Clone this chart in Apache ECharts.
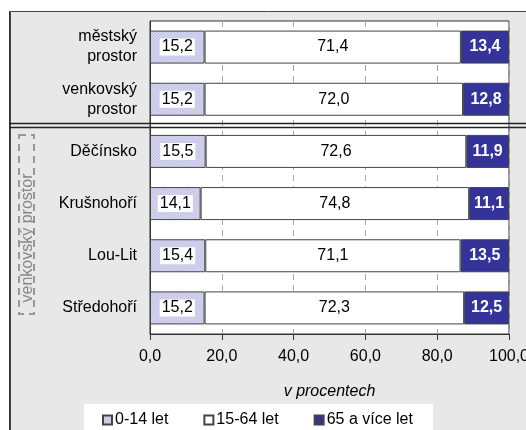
<!DOCTYPE html>
<html><head><meta charset="utf-8">
<script src="https://cdn.jsdelivr.net/npm/echarts@6/dist/echarts.min.js"></script>
<style>html,body{margin:0;padding:0;background:#fff;overflow:hidden}#c{width:526px;height:430px}</style>
</head><body><div id="c"></div>
<script>
var categories = ['městský\nprostor', 'venkovský\nprostor', 'Děčínsko', 'Krušnohoří', 'Lou-Lit', 'Středohoří'];
var seriesNames = ['0-14 let', '15-64 let', '65 a více let'];
var young = [15.2, 15.2, 15.5, 14.1, 15.4, 15.2];
var working = [71.4, 72.0, 72.6, 74.8, 71.1, 72.3];
var old = [13.4, 12.8, 11.9, 11.1, 13.5, 12.5];
var xTicks = [0, 20, 40, 60, 80, 100];

function fmt(v){ return v.toFixed(1).replace('.', ','); }

var cv = document.createElement('canvas');
cv.width = 3; cv.height = 3;
var cx = cv.getContext('2d');
cx.fillStyle = '#d4d4ee'; cx.fillRect(0,0,3,3);
cx.fillStyle = '#c0c0e2';
for (var i=0;i<3;i++){ cx.fillRect(i, 2-i, 1, 1); }

var chart = echarts.init(document.getElementById('c'), null, {renderer:'canvas', width:526, height:430});
var font = '"Liberation Sans", Arial, sans-serif';
var FS = 16;
chart.setOption({
  animation: false,
  textStyle: {fontFamily: font},
  graphic: [
    {type:'rect', z:-10, shape:{x:10.5, y:11.5, width:540, height:440}, style:{fill:'#e8e8e8', stroke:'#444', lineWidth:1}},
    {type:'line', z:-9, shape:{x1:9.5, y1:11, x2:9.5, y2:430}, style:{stroke:'#333', lineWidth:1}},
    {type:'rect', z:-8, shape:{x:84, y:404, width:349, height:40}, style:{fill:'#fff'}},
    {type:'line', z:50, shape:{x1:9, y1:123.5, x2:526, y2:123.5}, style:{stroke:'#222', lineWidth:1.5}},
    {type:'line', z:50, shape:{x1:9, y1:127.5, x2:526, y2:127.5}, style:{stroke:'#222', lineWidth:1.5}},
    {type:'rect', z:5, shape:{x:19, y:135, width:15, height:179}, style:{fill:'none', stroke:'#999', lineWidth:2, lineDash:[7,5]}},
    {type:'text', z:6, x:28, y:238, rotation:Math.PI/2, style:{text:'venkovský prostor', fill:'#888', font:FS + 'px ' + font, align:'center', verticalAlign:'middle'}}
  ],
  legend: {
    left: 97, top: 407, itemWidth: 9, itemHeight: 9, itemGap: 35,
    icon: 'rect',
    textStyle: {fontSize: FS, color:'#000', fontFamily: font, padding:[0,0,0,-2]},
    data: seriesNames
  },
  grid: {left:150, right:17, top:21, bottom:96, containLabel:false, outerBoundsMode:'none', show:true, backgroundColor:'#fff', borderColor:'#333', borderWidth:1},
  xAxis: {
    type:'value', min:0, max:100, interval:20,
    name:'v procentech', nameLocation:'middle', nameGap:50,
    nameTextStyle:{fontStyle:'italic', fontSize:FS, color:'#000', fontFamily:font},
    axisLine:{show:true, lineStyle:{color:'#333'}},
    axisTick:{show:true, length:6, lineStyle:{color:'#333'}},
    axisLabel:{margin:15, fontSize:FS, color:'#000', fontFamily:font, formatter:function(v){return fmt(v);}},
    splitLine:{show:true, lineStyle:{color:'#aaa', type:[6,5]}}
  },
  yAxis: {
    type:'category', inverse:true, data:categories,
    axisLine:{show:true, lineStyle:{color:'#333'}},
    axisTick:{show:false},
    axisLabel:{margin:13, fontSize:FS, color:'#000', lineHeight:20, fontFamily:font, align:'right'}
  },
  series: [
    {name:seriesNames[0], type:'bar', stack:'a', barWidth:33, data:young,
     itemStyle:{color:{image:cv, repeat:'repeat'}, borderColor:'#444', borderWidth:1},
     label:{show:true, position:'inside', color:'#000', fontSize:FS, backgroundColor:'#fff', padding:[1,2,0,2], formatter:function(p){return fmt(p.value);}}},
    {name:seriesNames[1], type:'bar', stack:'a', barWidth:33, data:working,
     itemStyle:{color:'#fff', borderColor:'#444', borderWidth:1},
     label:{show:true, position:'inside', color:'#000', fontSize:FS, formatter:function(p){return fmt(p.value);}}},
    {name:seriesNames[2], type:'bar', stack:'a', barWidth:33, data:old,
     itemStyle:{color:'#333399', borderColor:'#444', borderWidth:1},
     label:{show:true, position:'inside', color:'#fff', fontWeight:'bold', fontSize:FS, formatter:function(p){return fmt(p.value);}}}
  ]
});
</script></body></html>
